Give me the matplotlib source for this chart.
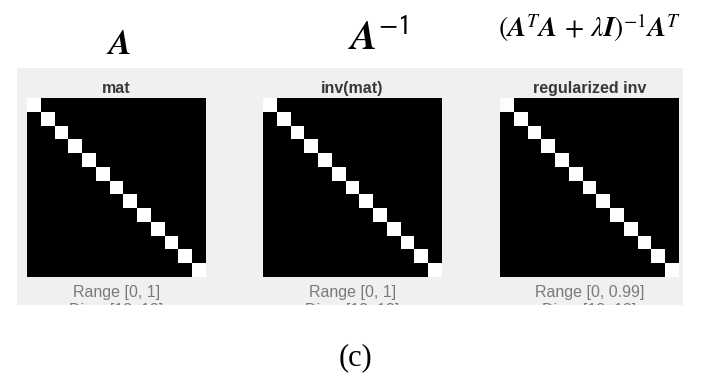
import numpy as np
import matplotlib
matplotlib.use("Agg")
import matplotlib.pyplot as plt

plt.rcParams["mathtext.fontset"] = "stix"

# 13x13 matrices: identity, its inverse, and the ridge-regularized inverse
n = 13
panel_titles = ["mat", "inv(mat)", "regularized inv"]
diag_values = [1.0, 1.0, 0.99]
range_labels = ["Range [0, 1]", "Range [0, 1]", "Range [0, 0.99]"]
dims_label = "Dims [13, 13]"
math_labels = [
    r"$\boldsymbol{A}$",
    r"$\boldsymbol{A}^{\mathsf{-1}}$",
    r"$(\boldsymbol{A}^T\boldsymbol{A}\,+\,\lambda\boldsymbol{I})^{-1}\boldsymbol{A}^T$",
]
caption = "(c)"

W, H = 711, 377
fig = plt.figure(figsize=(W / 100, H / 100), dpi=100)
fig.patch.set_facecolor("white")


def fx(px):
    return px / W


def fy(py):
    return 1 - py / H


# light gray viewer panel, with data coordinates in figure pixels
bx0, bx1, by0, by1 = 17, 683, 68, 305
bg = fig.add_axes([fx(bx0), fy(by1), fx(bx1) - fx(bx0), fy(by0) - fy(by1)])
bg.set_facecolor("#f0f0f0")
bg.set_xlim(bx0, bx1)
bg.set_ylim(by1, by0)
bg.set_xticks([])
bg.set_yticks([])
for s in bg.spines.values():
    s.set_visible(False)

img_lefts = [27, 263, 500]
img_size = 179
img_top = 98

for i in range(3):
    x0 = img_lefts[i]
    ax = fig.add_axes([fx(x0), fy(img_top + img_size), fx(img_size), img_size / H])
    mat = np.diag(np.full(n, diag_values[i]))
    ax.imshow(mat, cmap="gray", vmin=0, vmax=1, interpolation="nearest", aspect="auto")
    ax.set_axis_off()

    cx = x0 + img_size / 2
    bg.text(cx, 88, panel_titles[i], ha="center", va="center", fontsize=11.5,
            fontweight="bold", color="#383838", family="Liberation Sans")
    bg.text(cx, 293, range_labels[i], ha="center", va="center", fontsize=11.5,
            color="#7a7a7a", family="Liberation Sans", clip_on=True)
    bg.text(cx, 311, dims_label, ha="center", va="center", fontsize=11.5,
            color="#7a7a7a", family="Liberation Sans", clip_on=True)

# matrix expressions above each panel
fig.text(fx(118), fy(44), math_labels[0], ha="center", va="center", fontsize=25)
fig.text(fx(378), fy(38), math_labels[1], ha="center", va="center", fontsize=29)
fig.text(fx(590), fy(28), math_labels[2], ha="center", va="center", fontsize=20)

fig.text(fx(355), fy(358), caption, ha="center", va="center", fontsize=22,
         family="Liberation Serif")

fig.savefig("out.png", dpi=100, facecolor="white")
